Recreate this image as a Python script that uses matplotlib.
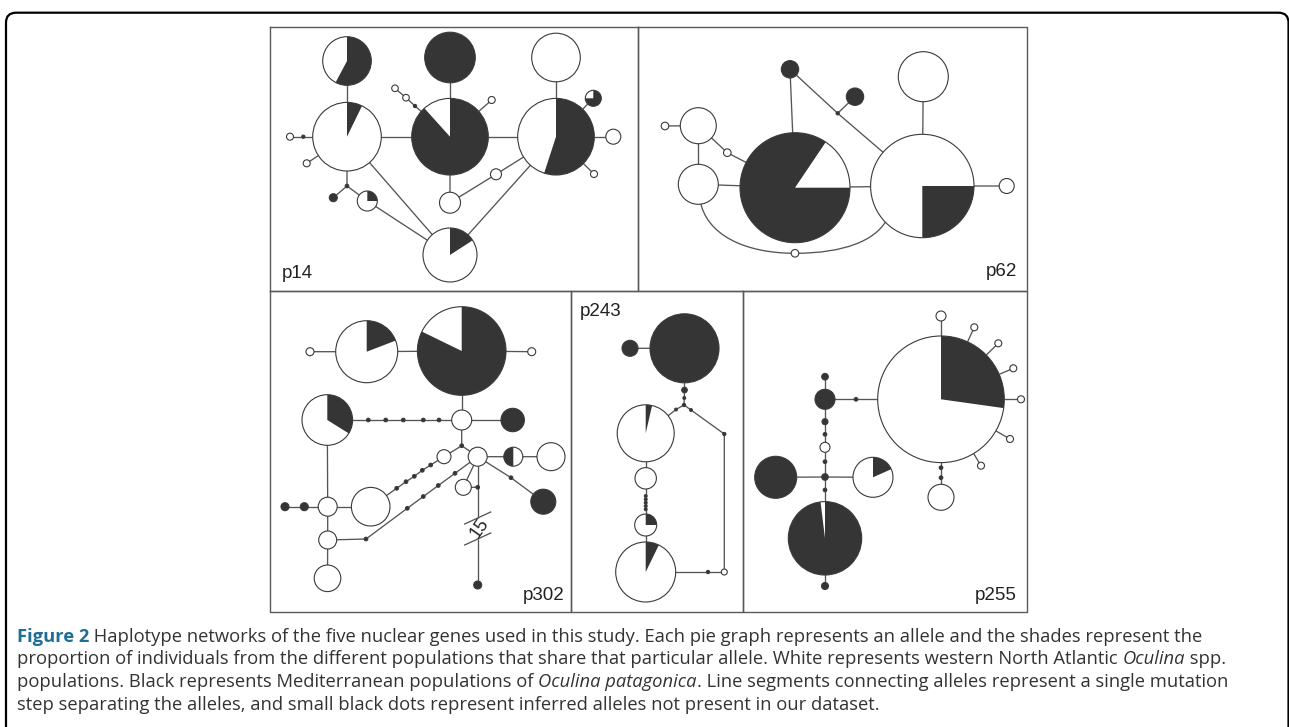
import matplotlib
matplotlib.use('Agg')
import matplotlib.pyplot as plt
from matplotlib.patches import Circle, Wedge, FancyBboxPatch, PathPatch
from matplotlib.path import Path

W, H = 1289, 727
DARK = '#353535'
OUTLINE = '#3a3a3a'
LINE = '#555555'
FRAME = '#5a5a5a'
BLACK = (0, 360)

# node -> (x, y, radius, black sector in degrees ccw on screen, None = all white)
# r == 0 marks a bend point that only carries lines
P14_NODES = {
    'tl': (347, 61, 24.3, (-118, 90)),
    'tm': (450, 57.5, 25.3, BLACK),
    'tr': (556, 57.5, 24.3, None),
    'L': (347, 136.7, 34.3, (64, 90)),
    'M': (450, 136.7, 38.3, (132, 450)),
    'R': (556, 136.7, 38.3, (-108, 90)),
    'rp': (593.3, 98.3, 8, (180, 450)),
    'rc': (613.3, 136.7, 7.5, None),
    'rs': (594, 174, 3.5, None),
    'ms': (491.7, 100, 3.5, None),
    'c1': (395, 88.3, 3.3, None),
    'c2': (406, 97.7, 3.3, None),
    'd1': (415, 106, 1.6, BLACK),
    'ls': (290, 136.7, 3.5, None),
    'ld': (303.3, 136.7, 1.6, BLACK),
    'ls2': (306.7, 163.3, 3.5, None),
    'j': (347, 186, 1.8, BLACK),
    'jb': (333.3, 197.7, 4, BLACK),
    'jp': (367.3, 201, 10, (0, 90)),
    'mb': (450, 202.7, 10.5, None),
    'mc': (496, 174.3, 5.5, None),
    'B': (450, 255, 27, (33, 90)),
}
P14_EDGES = [('tl', 'L'), ('tm', 'M'), ('tr', 'R'), ('L', 'M', 'R'),
             ('R', 'rp'), ('R', 'rc'), ('R', 'rs'), ('M', 'ms'),
             ('M', 'd1', 'c2', 'c1'), ('L', 'ld', 'ls'), ('L', 'ls2'),
             ('L', 'j', 'jb'), ('j', 'jp', 'B'), ('L', 'B'), ('R', 'B'),
             ('M', 'mb', 'mc', 'R')]

P62_NODES = {
    'BP': (795, 187.7, 55, (56, 360)),
    'WP': (922.3, 186, 51.7, (-90, 0)),
    'tr': (923.3, 76.7, 25, None),
    'rs': (1006.7, 186, 7.5, None),
    'b1': (790, 69.3, 8.7, BLACK),
    'b2': (855, 96.7, 8.7, BLACK),
    'd': (837.7, 113.3, 1.6, BLACK),
    'lu': (698.3, 125.7, 18, None),
    'll': (698.3, 184.3, 20, None),
    'ls': (665, 126, 3.8, None),
    'lc': (727.3, 152.7, 3.8, None),
    'bc': (795, 253.3, 3.8, None),
}
P62_EDGES = [('b1', 'BP'), ('b1', 'd', 'WP'), ('d', 'b2'), ('BP', 'WP', 'rs'),
             ('tr', 'WP'), ('ll', 'BP'), ('lu', 'll'), ('ls', 'lu', 'lc', 'BP')]
# lower arc from the left allele round to the right pie (bezier control points)
P62_ARC = [(700, 200), (706, 235), (745, 253.3), (795, 253.3),
           (845, 253.3), (875, 240), (886, 221)]

P302_NODES = {
    'TL': (366.7, 351.7, 31, (21, 90)),
    'tls': (310, 351.7, 4, None),
    'BP': (461.7, 351, 44.3, (154, 450)),
    'trs': (531.7, 351.7, 4, None),
    'ML': (327.3, 420, 25.3, (-32, 90)),
    'h1': (368.3, 420, 1.8, BLACK),
    'h2': (385.7, 420, 1.8, BLACK),
    'h3': (403.3, 420, 1.8, BLACK),
    'h4': (423.3, 420, 1.8, BLACK),
    'h5': (439, 420, 1.8, BLACK),
    'mc': (461.7, 420, 10, None),
    'mb': (512.7, 420, 11.7, BLACK),
    'j': (461.7, 445.7, 1.8, BLACK),
    'c7': (444, 456.7, 7, None),
    'cj': (477.7, 456.7, 9.5, None),
    'half': (513.3, 456.7, 9.5, (90, 270)),
    'cr': (551, 456.7, 14, None),
    'c8': (463.3, 487.3, 8, None),
    'vd': (477.7, 487.3, 1.8, BLACK),
    'g1': (477.7, 518, 0, None),
    'g2': (477.7, 539, 0, None),
    'bd': (477.7, 585, 4, BLACK),
    'BC': (370.7, 506.7, 19.3, None),
    'lc': (327.7, 506.7, 9.5, None),
    'lb1': (304.3, 506.7, 4, BLACK),
    'lb2': (285, 506.7, 4, BLACK),
    'lc2': (327.7, 540, 9, None),
    'lc3': (327.5, 578.3, 13.3, None),
    'u1': (396.7, 488.3, 1.8, BLACK),
    'u2': (406, 481.7, 1.8, BLACK),
    'u3': (414.3, 476.3, 1.8, BLACK),
    'u4': (422.3, 470.3, 1.8, BLACK),
    'u5': (430.7, 465, 1.8, BLACK),
    'k0': (366, 539, 1.8, BLACK),
    'k1': (407.3, 508.3, 1.8, BLACK),
    'k2': (423.3, 496.5, 1.8, BLACK),
    'k3': (438.3, 485.5, 1.8, BLACK),
    'k4': (455, 473.3, 1.8, BLACK),
    'rd': (511, 477.7, 1.8, BLACK),
    'rb': (543.3, 501.7, 12.5, BLACK),
}
P302_EDGES = [('tls', 'TL', 'BP', 'trs'), ('BP', 'mc', 'mb'),
              ('ML', 'h1', 'h2', 'h3', 'h4', 'h5', 'mc'),
              ('mc', 'j', 'c7'), ('j', 'cj', 'half', 'cr'),
              ('cj', 'c8', 'vd'), ('cj', 'vd', 'g1'), ('g2', 'bd'),
              ('cj', 'rd', 'rb'), ('c7', 'u5', 'u4', 'u3', 'u2', 'u1', 'BC'),
              ('BC', 'lc', 'lb1', 'lb2'), ('ML', 'lc', 'lc2', 'lc3'),
              ('lc2', 'k0', 'k1', 'k2', 'k3', 'k4', 'cj')]
P302_STEP_LABEL = '15'

P243_NODES = {
    'BB': (684.5, 348.3, 34.5, BLACK),
    'sb': (630, 348.3, 8, BLACK),
    'd1': (684.5, 390, 2.8, BLACK),
    'd2': (684.3, 398, 1.4, BLACK),
    'j': (684, 405, 1.6, BLACK),
    'd3': (676, 409.5, 1.4, BLACK),
    'd4': (691, 410, 1.4, BLACK),
    'W1': (645.7, 433.3, 28.5, (77, 90)),
    'rt': (724.3, 434, 1.6, BLACK),
    'c': (645.7, 478.3, 10.7, None),
    'e1': (645.7, 496, 1.4, BLACK),
    'e2': (645.7, 499.3, 1.4, BLACK),
    'e3': (645.7, 502.7, 1.4, BLACK),
    'e4': (645.7, 506, 1.4, BLACK),
    'e5': (645.7, 509.3, 1.4, BLACK),
    'q': (645.7, 525, 11, (0, 90)),
    'W2': (645.7, 572, 30, (64, 90)),
    'bd': (708, 572, 1.6, BLACK),
    'oc': (724.3, 572, 3, None),
}
P243_EDGES = [('sb', 'BB', 'd1', 'd2', 'j', 'd3', 'W1'), ('j', 'd4', 'rt', 'oc'),
              ('W1', 'c', 'e1', 'e2', 'e3', 'e4', 'e5', 'q', 'W2'),
              ('W2', 'bd', 'oc')]

P255_NODES = {
    'BIG': (941, 399.3, 63.3, (-8, 90)),
    's1': (941, 316, 5, None),
    's2': (974.3, 327.3, 3.5, None),
    's3': (998.3, 343.3, 3.5, None),
    's4': (1013.3, 368.3, 3.5, None),
    's5': (1021, 399.3, 3.5, None),
    's6': (1010, 439, 3.5, None),
    's7': (981, 465.7, 3.5, None),
    'b1': (941, 467.7, 1.8, BLACK),
    'b2': (941, 477.7, 1.8, BLACK),
    'bs': (941, 497.3, 13, None),
    'v0': (825, 376.7, 3.3, BLACK),
    'BC': (825, 399.3, 10, BLACK),
    'hd': (856, 399.3, 1.8, BLACK),
    'v1': (825, 421.7, 3, BLACK),
    'v2': (825, 434.3, 1.8, BLACK),
    'vo': (825, 447.3, 5, None),
    'v3': (825, 461.7, 1.8, BLACK),
    'vj': (825, 477, 3.3, BLACK),
    'v4': (825, 490, 1.8, BLACK),
    'BBP': (825, 538.3, 36.7, (97, 450)),
    'bdot': (825, 586, 3.5, BLACK),
    'LB': (775.7, 477.3, 21, BLACK),
    'RP': (873, 477.3, 20, (24, 90)),
}
P255_EDGES = [('v0', 'BC', 'v1', 'v2', 'vo', 'v3', 'vj', 'v4', 'BBP', 'bdot'),
              ('BC', 'hd', 'BIG'), ('LB', 'vj', 'RP'),
              ('BIG', 's1'), ('BIG', 's2'), ('BIG', 's3'), ('BIG', 's4'),
              ('BIG', 's5'), ('BIG', 's6'), ('BIG', 's7'),
              ('BIG', 'b1', 'b2', 'bs')]

# panel boxes (left, top, right, bottom) and their gene labels
PANEL_BOXES = [(270, 27, 638, 291), (638, 27, 1027, 291),
               (270, 291, 571, 612), (571, 291, 743, 612), (743, 291, 1027, 612)]
PANEL_LABELS = ['p14', 'p62', 'p302', 'p243', 'p255']
LABEL_POS = [(282, 274, 'left'), (1017, 271, 'right'), (565, 596, 'right'),
             (580, 311, 'left'), (1017, 596, 'right')]

CAPTION_LINES = [
    [('Figure 2', 'bold'),
     (' Haplotype networks of the five nuclear genes used in this study. Each pie graph '
      'represents an allele and the shades represent the', 'normal')],
    [('proportion of individuals from the different populations that share that particular '
      'allele. White represents western North Atlantic ', 'normal'),
     ('Oculina', 'italic'), (' spp.', 'normal')],
    [('populations. Black represents Mediterranean populations of ', 'normal'),
     ('Oculina patagonica', 'italic'),
     ('. Line segments connecting alleles represent a single mutation', 'normal')],
    [('step separating the alleles, and small black dots represent inferred alleles not '
      'present in our dataset.', 'normal')],
]
CAPTION_BASELINES = [642, 664.5, 687, 709.5]
CAPTION_FONT = 'Open Sans'
FIG_BLUE = '#1f6e98'
TEXT_GREY = '#333333'


def draw_node(ax, x, y, r, black):
    if r <= 0:
        return
    ax.add_patch(Circle((x, y), r, facecolor='white', edgecolor='none', zorder=2))
    if black is not None:
        t1, t2 = black
        if t2 - t1 >= 360:
            ax.add_patch(Circle((x, y), r, facecolor=DARK, edgecolor='none', zorder=3))
        else:
            # y axis runs downward, so flip the screen angles
            ax.add_patch(Wedge((x, y), r, -t2, -t1, facecolor=DARK,
                               edgecolor='none', zorder=3))
    ax.add_patch(Circle((x, y), r, facecolor='none', edgecolor=OUTLINE,
                        lw=0.8, zorder=4))


def draw_network(ax, nodes, edges):
    for chain in edges:
        xs = [nodes[n][0] for n in chain]
        ys = [nodes[n][1] for n in chain]
        ax.plot(xs, ys, color=LINE, lw=0.95, zorder=1, solid_capstyle='butt')
    for x, y, r, black in nodes.values():
        draw_node(ax, x, y, r, black)


def text_width(ax, renderer, s, **kw):
    t = ax.text(0, 0, s + '|', **kw)
    bar = ax.text(0, 0, '|', **kw)
    w = t.get_window_extent(renderer).width - bar.get_window_extent(renderer).width
    t.remove()
    bar.remove()
    return w


fig = plt.figure(figsize=(W / 100, H / 100), dpi=100)
ax = fig.add_axes([0, 0, 1, 1])
ax.set_xlim(0, W)
ax.set_ylim(H, 0)
ax.set_aspect('equal')
ax.axis('off')

# outer rounded frame
ax.add_patch(FancyBboxPatch((6, 12.7), 1282.5, 800,
                            boxstyle='round,pad=0,rounding_size=10',
                            facecolor='none', edgecolor='black', lw=1.6, zorder=5))

# panel grid
for x0, y0, x1, y1 in PANEL_BOXES:
    ax.plot([x0, x1, x1, x0, x0], [y0, y0, y1, y1, y0], color=FRAME, lw=1.0, zorder=5)

draw_network(ax, P14_NODES, P14_EDGES)
draw_network(ax, P62_NODES, P62_EDGES)
draw_network(ax, P302_NODES, P302_EDGES)
draw_network(ax, P243_NODES, P243_EDGES)
draw_network(ax, P255_NODES, P255_EDGES)

arc = Path(P62_ARC, [Path.MOVETO] + [Path.CURVE4] * 6)
ax.add_patch(PathPatch(arc, facecolor='none', edgecolor=LINE, lw=0.95, zorder=1))

# 15-step break on the long p302 branch
gx, gy1 = P302_NODES['g1'][:2]
gy2 = P302_NODES['g2'][1]
for gy in (gy1, gy2):
    ax.plot([gx - 13, gx + 13], [gy + 6, gy - 6], color=LINE, lw=0.95, zorder=1)
ax.text(gx + 2, (gy1 + gy2) / 2, P302_STEP_LABEL, rotation=55, ha='center',
        va='center', fontsize=13, family='Liberation Sans', color='#222222')

for name, (lx, ly, ha) in zip(PANEL_LABELS, LABEL_POS):
    ax.text(lx, ly, name, ha=ha, va='center', fontsize=13.5,
            family='Liberation Sans', color='#222222', zorder=6)

# caption, fitted so the third line spans the text block
renderer = fig.canvas.get_renderer()
styles = {'bold': dict(fontweight='bold', color=FIG_BLUE),
          'normal': dict(color=TEXT_GREY),
          'italic': dict(fontstyle='italic', color=TEXT_GREY)}
base = 14.0
w3 = sum(text_width(ax, renderer, s, family=CAPTION_FONT, fontsize=base,
                    fontweight='bold' if k == 'bold' else 'normal',
                    fontstyle='italic' if k == 'italic' else 'normal')
         for s, k in CAPTION_LINES[2])
cap_size = base * (1235 - 17) / w3

for runs, yb in zip(CAPTION_LINES, CAPTION_BASELINES):
    x = 17
    for s, kind in runs:
        kw = dict(family=CAPTION_FONT, fontsize=cap_size, **styles[kind])
        ax.text(x, yb, s, ha='left', va='baseline', **kw)
        x += text_width(ax, renderer, s, **kw)

fig.savefig('out.png', dpi=100, facecolor='white')
